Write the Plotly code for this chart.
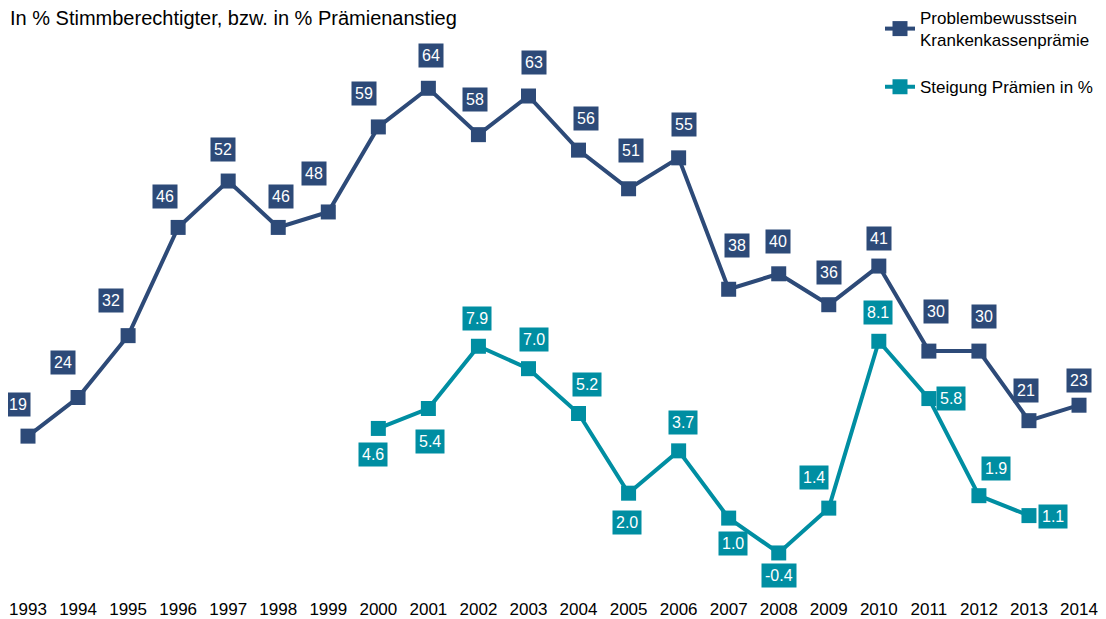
import plotly.graph_objects as go

years = list(range(1993, 2015))
bewusstsein = [19, 24, 32, 46, 52, 46, 48, 59, 64, 58, 63, 56, 51, 55, 38, 40, 36, 41, 30, 30, 21, 23]

years_praemie = list(range(2000, 2014))
praemie = [4.6, 5.4, 7.9, 7.0, 5.2, 2.0, 3.7, 1.0, -0.4, 1.4, 8.1, 5.8, 1.9, 1.1]

# label box offsets relative to the marker (pixels, screen coordinates: +x right, +y down)
shift_blue = [(-10, -32), (-15, -35), (-17, -35), (-13, -31), (-5, -32), (3, -31), (-14, -38),
              (-14, -33), (3, -33), (-3, -35), (6, -34), (7, -32), (2, -38), (5, -33),
              (8, -44), (-1, -32), (0, -32), (0, -28), (7, -40), (5, -35), (-3, -30), (0, -25)]
shift_teal = [(-5, 26), (2, 33), (-1, -28), (6, -29), (8, -29), (-2, 29), (4, -28),
              (4, 25), (0, 23), (-15, -31), (-1, -29), (22, 0), (17, -27), (24, 1)]

blue = 'rgb(45,74,120)'
teal = 'rgb(0,142,162)'
font = 'Liberation Sans, Arial, sans-serif'

# the page body adds an 8px margin, so the figure is smaller than the window
W, H = 1090, 611
ml, mr, mt, mb = 0, 0, 22, 27
pw, ph = W - ml - mr, H - mt - mb

fig = go.Figure()

fig.add_trace(go.Scatter(x=years, y=bewusstsein, mode='lines+markers',
                         name='Problembewusstsein<br>Krankenkassenprämie',
                         line=dict(color=blue, width=4),
                         marker=dict(symbol='square', size=15, color=blue),
                         legendgroup='a'))
fig.add_trace(go.Scatter(x=years_praemie, y=praemie, mode='lines+markers',
                         name='Steigung Prämien in %', yaxis='y2',
                         line=dict(color=teal, width=4),
                         marker=dict(symbol='square', size=15, color=teal),
                         legendgroup='b'))

annotations = []
for x, v, (dx, dy) in zip(years, bewusstsein, shift_blue):
    annotations.append(dict(x=x, y=v, xref='x', yref='y', text=str(v), showarrow=False,
                            xshift=dx, yshift=-dy, bgcolor=blue, borderpad=3,
                            font=dict(color='white', size=16, family=font)))
for x, v, (dx, dy) in zip(years_praemie, praemie, shift_teal):
    annotations.append(dict(x=x, y=v, xref='x', yref='y2', text='%.1f' % v, showarrow=False,
                            xshift=dx, yshift=-dy, bgcolor=teal, borderpad=3,
                            font=dict(color='white', size=16, family=font)))

# axis caption at the top left
annotations.append(dict(x=0, y=1 + (mt - 10) / ph, xref='paper', yref='paper',
                        text='In % Stimmberechtigter, bzw. in % Prämienanstieg',
                        showarrow=False, xanchor='left', yanchor='middle',
                        font=dict(color='black', size=20, family=font)))

fig.update_layout(
    width=W, height=H,
    margin=dict(l=ml, r=mr, t=mt, b=mb, autoexpand=False),
    plot_bgcolor='white', paper_bgcolor='white',
    font=dict(family=font, color='black'),
    annotations=annotations,
    xaxis=dict(range=[1992.6004, 2014.3794], tickmode='array', tickvals=years,
               ticktext=[str(y) for y in years], showgrid=False, zeroline=False,
               showline=False, ticks='outside', ticklen=2, tickcolor='white',
               tickfont=dict(size=17, family=font)),
    yaxis=dict(range=[-1.164, 71.54], visible=False),
    yaxis2=dict(range=[-1.968, 20.6], overlaying='y', visible=False),
    legend=dict(x=1, y=1 + 30 / ph, xanchor='right', yanchor='top',
                font=dict(size=17, family=font), tracegroupgap=22,
                bgcolor='rgba(0,0,0,0)'),
    showlegend=True,
)

fig.write_html('out.html')
